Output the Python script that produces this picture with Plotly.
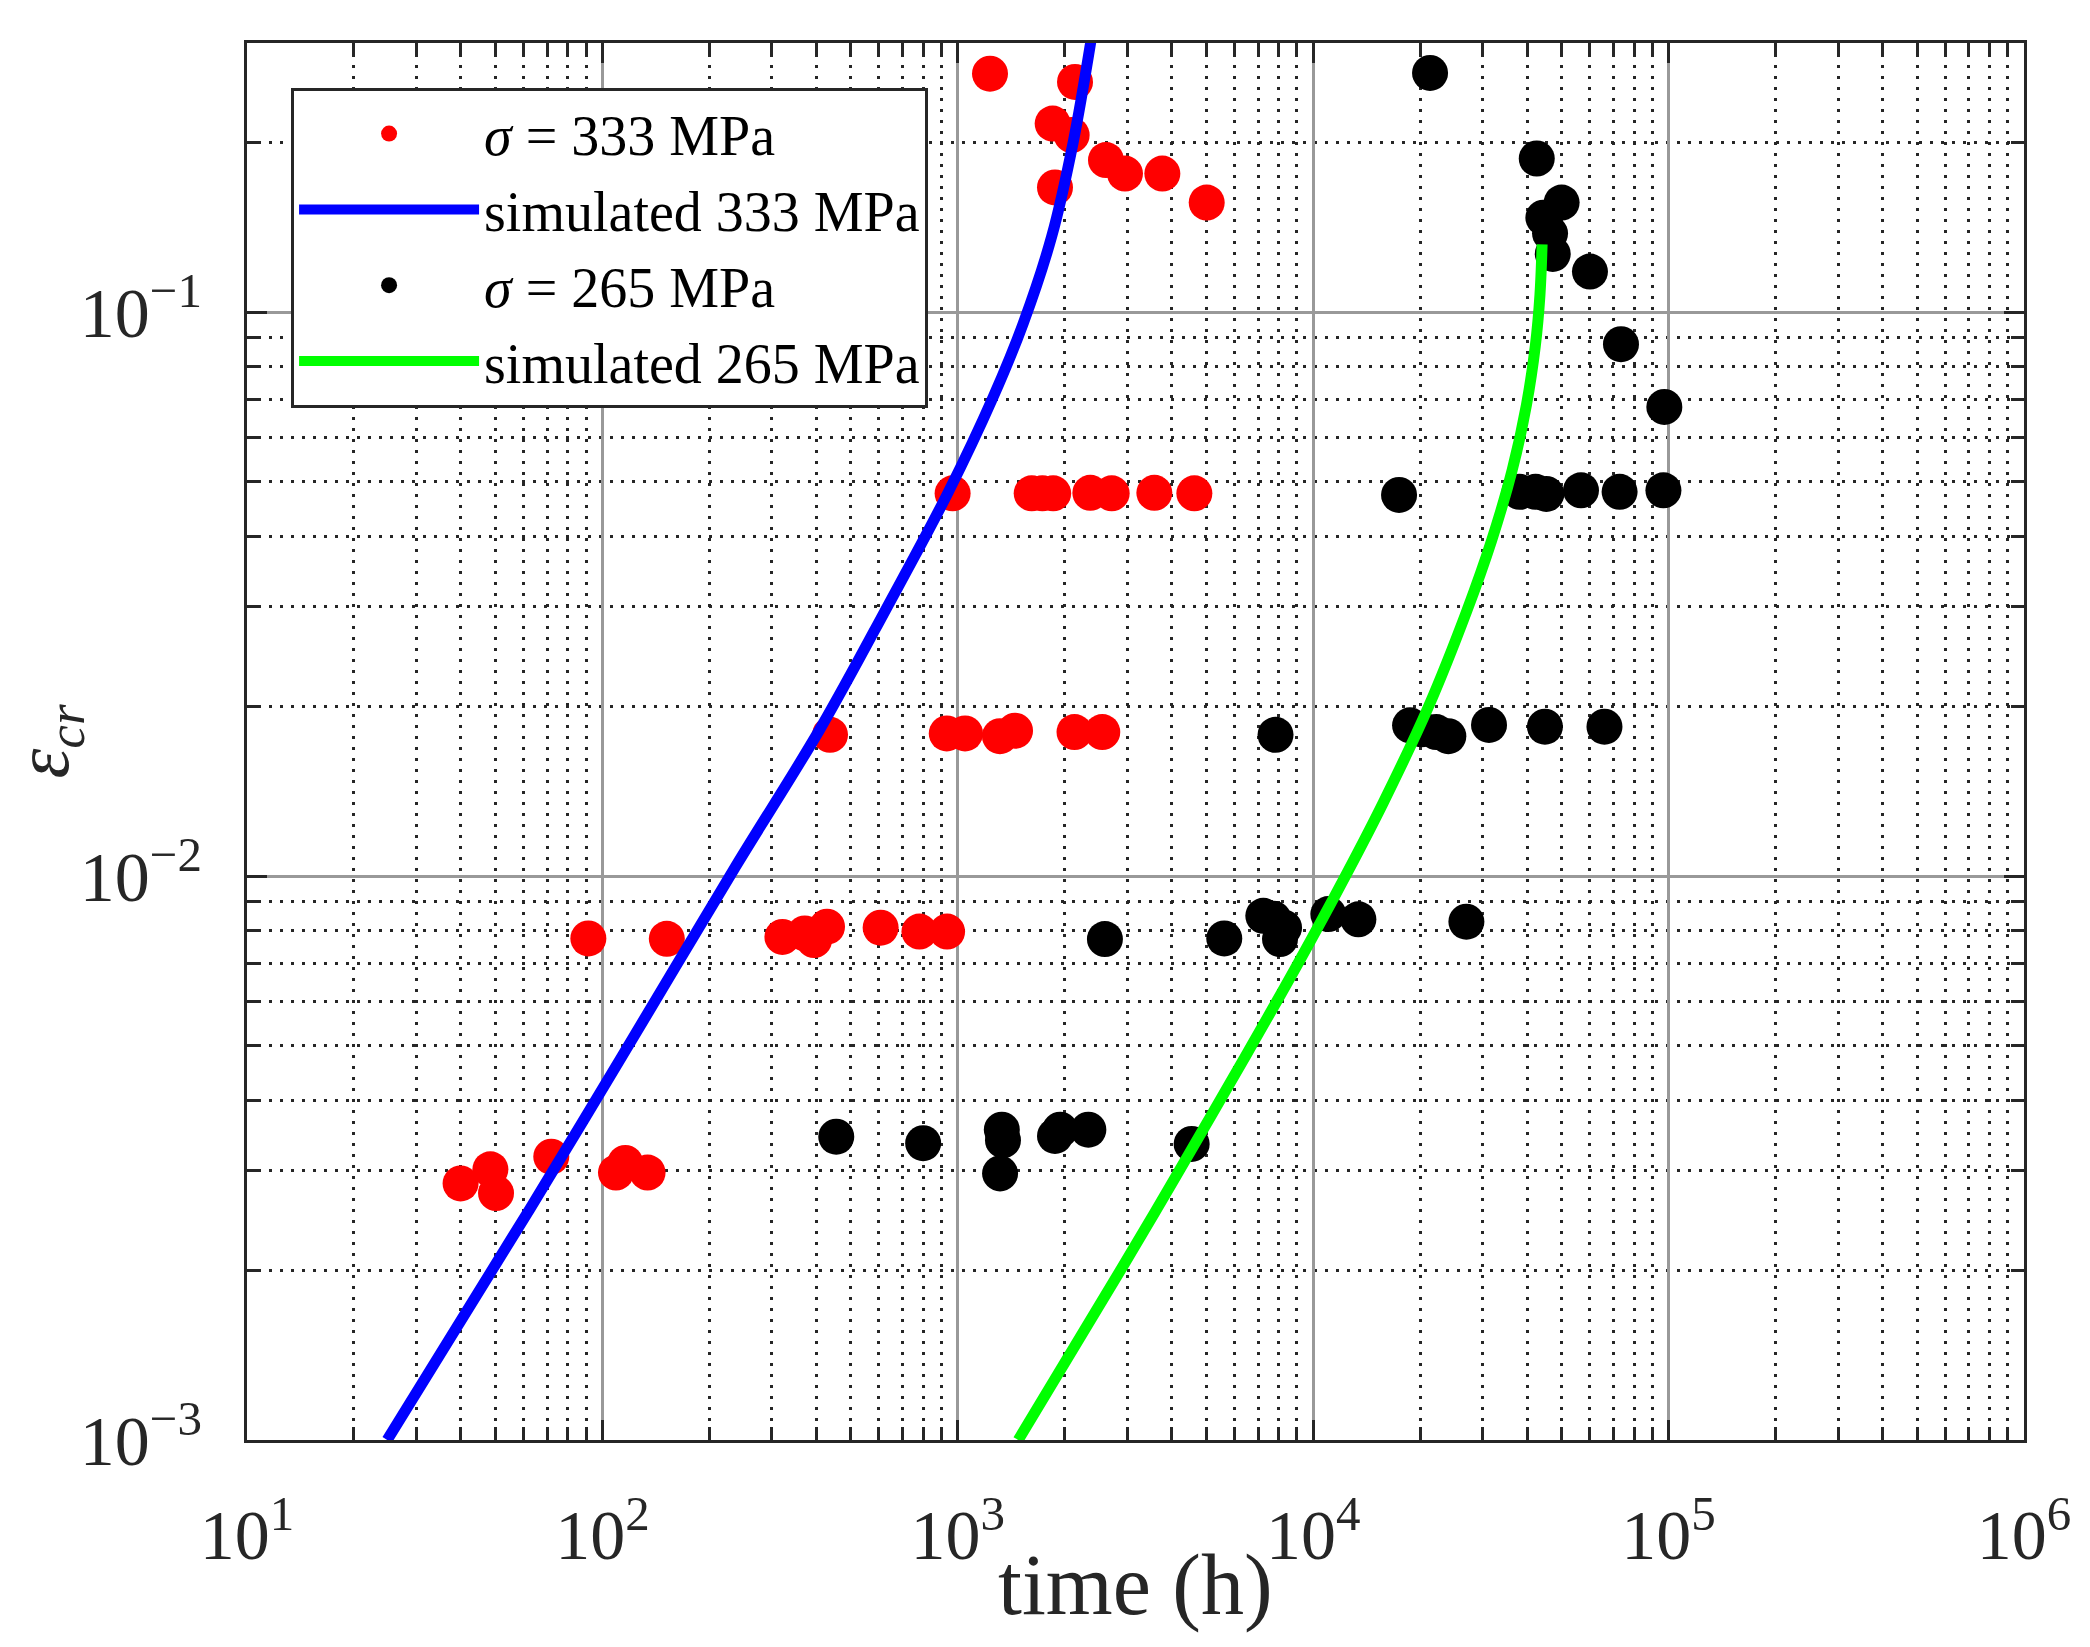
import plotly.graph_objects as go

# ---------------- data ----------------
red_t = [39.9, 48.4, 50.2, 71.8, 109.2, 116, 134,
         91.3, 151.8, 321, 371, 394, 428.6, 606.6, 780, 933,
         437, 931, 1048, 1314, 1449, 2130, 2550,
         967, 1614, 1730, 1855, 2360, 2710, 3573, 4630,
         1232, 2137, 1849, 2091, 1877, 2612, 2954, 3763, 5016]
red_e = [0.00285, 0.00302, 0.00274, 0.00318, 0.00298, 0.0031, 0.00298,
         0.00775, 0.00774, 0.0078, 0.00791, 0.0077, 0.00813, 0.0081, 0.00797, 0.00797,
         0.0178, 0.0179, 0.0179, 0.0177, 0.0181, 0.018, 0.018,
         0.0477, 0.0477, 0.0477, 0.0477, 0.0478, 0.0477, 0.0478, 0.0477,
         0.2647, 0.2559, 0.2159, 0.206, 0.1663, 0.186, 0.176, 0.176, 0.1564]

black_t = [455, 799, 1315, 1330, 1340, 1877, 1941, 2330, 4550,
           2594, 5620, 7238, 7727, 8065, 8280, 11030, 13400, 26980,
           7834, 18730, 20180, 22190, 24000, 31240, 44880, 66000,
           17440, 38060, 42230, 45280, 56690, 72800, 96700,
           97270, 73460, 60080, 47210, 46390, 44420, 50000, 42560, 21320]
black_e = [0.00345, 0.00336, 0.00297, 0.00355, 0.0034, 0.00346, 0.00355, 0.00355, 0.00335,
           0.00773, 0.00775, 0.0085, 0.0084, 0.00773, 0.0081, 0.00856, 0.00838, 0.0083,
           0.0178, 0.0185, 0.0182, 0.018, 0.0177, 0.01853, 0.0184, 0.0184,
           0.0474, 0.048, 0.048, 0.0476, 0.0483, 0.048, 0.0483,
           0.0679, 0.0877, 0.118, 0.1268, 0.1379, 0.147, 0.1564, 0.1872, 0.2655]

sim333_t = [24.8, 62.4, 114, 236, 409, 631, 938, 1259, 1528, 1837, 2113, 2366]
sim333_e = [0.001, 0.002565, 0.00481, 0.01035, 0.0182, 0.0299, 0.0478,
            0.0708, 0.0955, 0.1361, 0.2004, 0.301]

sim265_t = [1479, 2924, 4130, 6310, 8974, 12445, 15740, 21090, 27040,
            31770, 36310, 39810, 42170, 43450, 44060]
sim265_e = [0.001, 0.00204, 0.00295, 0.00468, 0.00692, 0.01012, 0.01349, 0.01995,
            0.0295, 0.03936, 0.05248, 0.0684, 0.0871, 0.1072, 0.1318]

x_tickvals = [1e1, 1e2, 1e3, 1e4, 1e5, 1e6]
x_ticktext = ["10<sup>1</sup>", "10<sup>2</sup>", "10<sup>3</sup>",
              "10<sup>4</sup>", "10<sup>5</sup>", "10<sup>6</sup>"]
y_tickvals = [1e-3, 1e-2, 1e-1]
y_ticktext = ["10<sup>\u22123</sup>", "10<sup>\u22122</sup>", "10<sup>\u22121</sup>"]

x_title = "time (h)"
y_title = "<i>\u03b5</i><sub><i>cr</i></sub>"
legend_names = ["<i>\u03c3</i> = 333 MPa", "simulated 333 MPa",
                "<i>\u03c3</i> = 265 MPa", "simulated 265 MPa"]

# ---------------- style ----------------
FONT = "Liberation Serif"
AX = "#262626"
x_minor = [k * 10 ** d for d in range(1, 6) for k in range(2, 10)]
y_minor = [k * 10.0 ** d for d in range(-3, 0) for k in range(2, 10)]

fig = go.Figure()
fig.add_trace(go.Scatter(x=red_t, y=red_e, mode="markers", name=legend_names[0],
                         marker=dict(color="#ff0000", size=36, line=dict(width=0))))
fig.add_trace(go.Scatter(x=sim333_t, y=sim333_e, mode="lines", name=legend_names[1],
                         line=dict(color="#0000ff", width=11, shape="spline", smoothing=1.0)))
fig.add_trace(go.Scatter(x=black_t, y=black_e, mode="markers", name=legend_names[2],
                         marker=dict(color="#000000", size=36, line=dict(width=0))))
fig.add_trace(go.Scatter(x=sim265_t, y=sim265_e, mode="lines", name=legend_names[3],
                         line=dict(color="#00ff00", width=11, shape="spline", smoothing=1.0)))

axis_common = dict(
    type="log", showline=True, linecolor=AX, linewidth=3, mirror="allticks",
    ticks="inside", ticklen=20, tickwidth=2.5, tickcolor=AX, automargin=False,
    showgrid=True, gridcolor="#999999", gridwidth=3, zeroline=False,
    tickfont=dict(family=FONT, size=70, color=AX),
)

fig.update_layout(
    width=2090, height=1647,
    margin=dict(l=247, r=66, t=43, b=207),
    paper_bgcolor="white", plot_bgcolor="white",
    font=dict(family=FONT, color=AX),
    showlegend=True,
    legend=dict(x=0.0248, y=0.968, xanchor="left", yanchor="top",
                bgcolor="white", bordercolor=AX, borderwidth=3,
                font=dict(family=FONT, size=56, color="#000000"),
                tracegroupgap=0, itemwidth=180),
    xaxis=dict(**axis_common, range=[1, 6], tickmode="array",
               tickvals=x_tickvals, ticktext=x_ticktext, ticklabelstandoff=32,
               minor=dict(tickmode="array", tickvals=x_minor, ticks="inside", ticklen=13,
                          tickwidth=2.5, tickcolor=AX, showgrid=True, gridcolor=AX,
                          gridwidth=3, griddash="3px,8px")),
    yaxis=dict(**axis_common, range=[-3, -0.5229], tickmode="array",
               tickvals=y_tickvals, ticktext=y_ticktext, ticklabelstandoff=28,
               title=dict(text=y_title, font=dict(family=FONT, size=76, color=AX), standoff=22),
               minor=dict(tickmode="array", tickvals=y_minor, ticks="inside", ticklen=13,
                          tickwidth=2.5, tickcolor=AX, showgrid=True, gridcolor=AX,
                          gridwidth=3, griddash="3px,8px")),
    annotations=[dict(text=x_title, xref="paper", yref="paper", x=0.5, y=-0.1038,
                      xanchor="center", yanchor="middle", showarrow=False,
                      font=dict(family=FONT, size=86, color=AX))],
)

fig.write_html("out.html", config={"displayModeBar": False},
               post_script="document.body.style.margin='0';")
